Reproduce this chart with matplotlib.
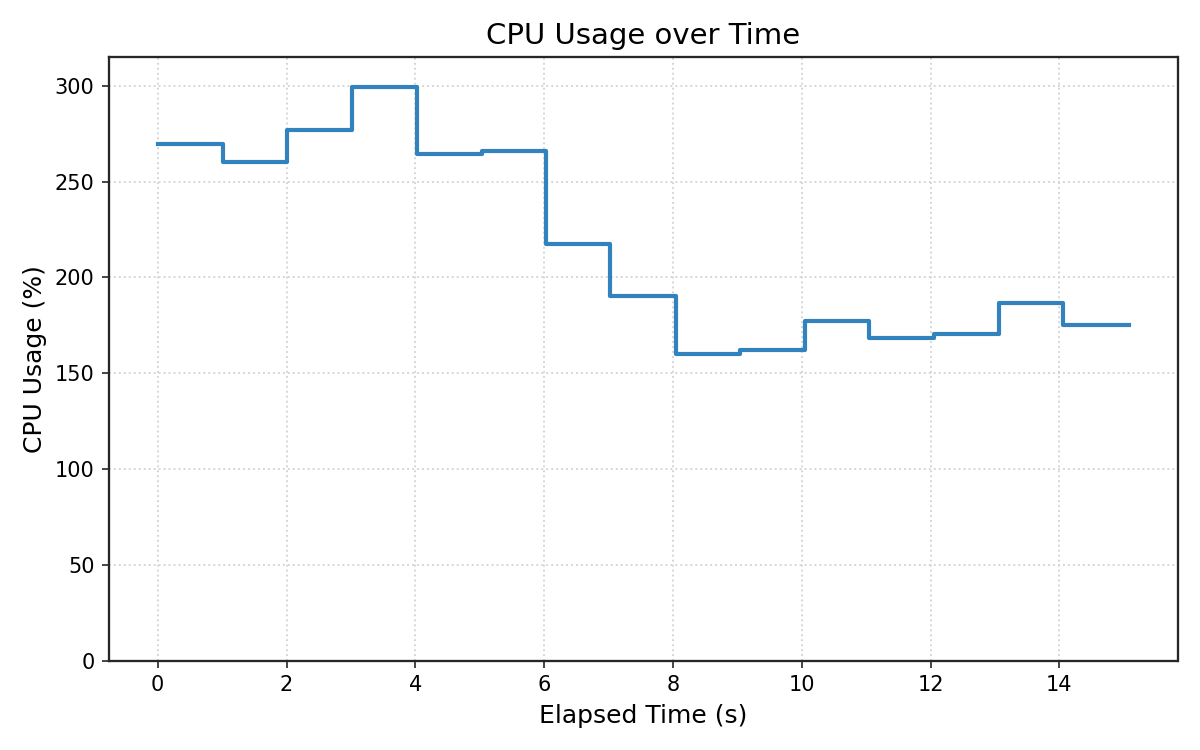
import matplotlib
matplotlib.use("Agg")
import matplotlib.pyplot as plt

# elapsed seconds at each sample and measured cpu usage (percent, multi-core)
elapsed_s = [0.0, 1.01, 2.01, 3.02, 4.02, 5.03, 6.03, 7.03, 8.04, 9.04,
             10.05, 11.05, 12.06, 13.06, 14.06, 15.08]
cpu_pct = [269.8, 260.0, 276.8, 299.6, 264.2, 266.2, 217.4, 190.2, 159.8, 161.9,
           177.2, 168.6, 170.6, 186.6, 175.2, 175.2]

fig, ax = plt.subplots(figsize=(8, 5), dpi=150)
ax.step(elapsed_s, cpu_pct, where="post", color="#3182bd", linewidth=2)

ax.set_title("CPU Usage over Time", fontsize=14)
ax.set_xlabel("Elapsed Time (s)", fontsize=12)
ax.set_ylabel("CPU Usage (%)", fontsize=12)
ax.set_ylim(0, 315)
ax.grid(True, linestyle=":", color="#d4d4d4", linewidth=0.9)
ax.set_axisbelow(True)
for spine in ax.spines.values():
    spine.set_color("#262626")
    spine.set_linewidth(1.1)
ax.tick_params(color="#262626")

fig.tight_layout()
fig.savefig("out.png", dpi=150)
